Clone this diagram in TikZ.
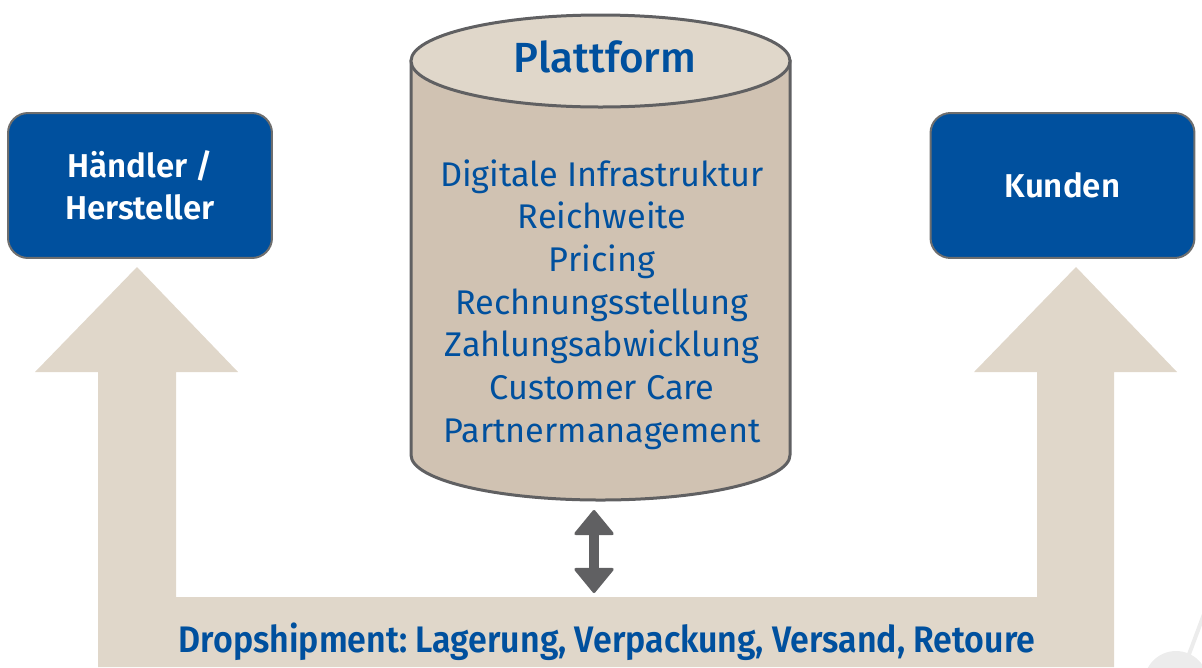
\documentclass[tikz,border=0pt]{standalone}
\usepackage{fontspec}
\setmainfont{Fira Sans}
\newfontfamily\firasemi{Fira Sans SemiBold}
\newfontfamily\firamed{Fira Sans Medium}
\newfontfamily\firanarrow[FakeStretch=0.92]{Fira Sans SemiBold}
\usepackage{tikz}
\usetikzlibrary{arrows.meta}
\frenchspacing

\definecolor{dsblue}{RGB}{0,80,158}
\definecolor{boxrim}{RGB}{110,110,110}
\definecolor{sand}{RGB}{224,215,202}
\definecolor{sanddark}{RGB}{208,194,178}
\definecolor{rimgray}{RGB}{96,96,98}
\definecolor{decogray}{RGB}{236,236,236}

\begin{document}
\begin{tikzpicture}[x=0.02cm,y=-0.02cm,
  partybox/.style={draw=boxrim, line width=0.04cm, fill=dsblue, rounded corners=0.4cm,
    minimum width=5.28cm, minimum height=2.9cm, text=white, align=center,
    font=\firasemi\fontsize{18.8}{24}\selectfont},
  listtext/.style={text=dsblue, inner sep=0pt, font=\fontsize{19.5}{24}\selectfont},
  cylrim/.style={draw=rimgray, line width=0.06cm},
  updown/.style={rimgray, line width=0.2cm,
    {Triangle[length=0.52cm, width=0.84cm, line width=0.06cm, round]}-{Triangle[length=0.52cm, width=0.84cm, line width=0.06cm, round]}}
]

% Frame
\clip (0,0) rectangle (1202,667);

% Corner decoration
\fill[decogray] (1176,683) circle (32);
\draw[decogray, line width=0.08cm] (1185,665) -- (1210,598);

% Dropshipment band with the two arrow heads
\fill[sand] (98,667) -- (98,372) -- (35,372) -- (137,267) -- (238,372) -- (176,372)
  -- (176,597) -- (1037,597) -- (1037,372) -- (974,372) -- (1076,267) -- (1177,372)
  -- (1114,372) -- (1114,667) -- cycle;
\node[text=dsblue, anchor=base, font=\firanarrow\fontsize{21}{24}\selectfont] (dropship)
  at (607,652) {Dropshipment: Lagerung, Verpackung, Versand, Retoure};

% Partner boxes
\node[partybox] (haendler) at (140,185.5) {Händler /\\Hersteller};
\node[partybox] (kunden) at (1062.5,185.5) {Kunden};

% Plattform cylinder
\filldraw[cylrim, fill=sanddark] (411,61) -- (411,455)
  arc[start angle=180, end angle=0, x radius=189.5, y radius=45] -- (790,61) -- cycle;
\filldraw[cylrim, fill=sand] (600.5,61) ellipse[x radius=189.5, y radius=46];
\node[text=dsblue, anchor=base, inner sep=0pt, font=\firamed\fontsize{24}{30}\selectfont]
  (plattform) at (605,72) {Plattform};

% Services
\foreach \txt [count=\i] in {Digitale Infrastruktur, Reichweite, Pricing,
    Rechnungsstellung, Zahlungsabwicklung, Customer Care, Partnermanagement}
  \node[listtext, anchor=base] (service\i) at ({602},{186+42.67*(\i-1)}) {\txt};

% Link between plattform and band
\coordinate (cylfoot) at (594,510);
\coordinate (bandtop) at (594,593);
\draw[updown] (cylfoot) -- (bandtop);

\end{tikzpicture}
\end{document}
